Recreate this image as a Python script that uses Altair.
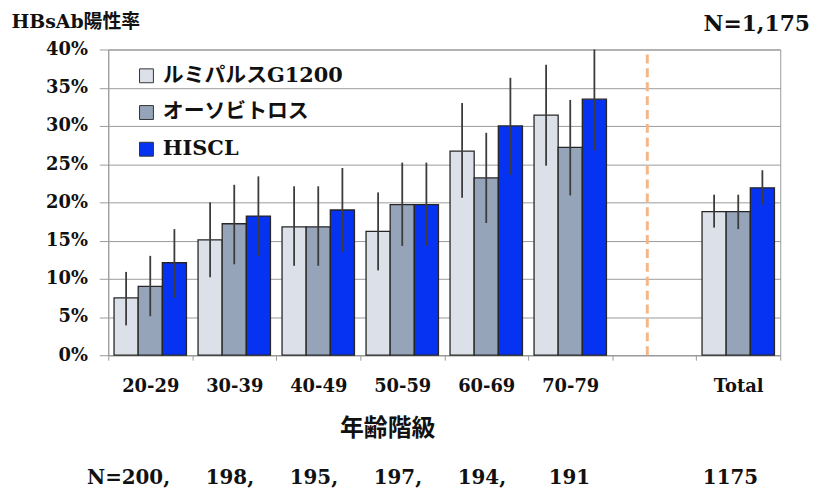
import altair as alt
import pandas as pd

# ---- data ----
cats = ["20-29", "30-39", "40-49", "50-59", "60-69", "70-79", "Total"]
x_domain = ["20-29", "30-39", "40-49", "50-59", "60-69", "70-79", " ", "Total"]
series = ["ルミパルスG1200", "オーソビトロス", "HISCL"]
colors = ["#DCE0E9", "#96A4BA", "#0633F2"]

lumi = [7.5, 15.1, 16.8, 16.2, 26.7, 31.4, 18.8]
lumi_lo = [3.9, 10.2, 11.7, 11.1, 20.6, 24.8, 16.7]
lumi_hi = [10.9, 20.0, 22.1, 21.3, 33.0, 38.0, 21.0]

ortho = [9.0, 17.2, 16.8, 19.7, 23.2, 27.2, 18.8]
ortho_lo = [5.1, 11.9, 11.7, 14.3, 17.3, 20.9, 16.5]
ortho_hi = [13.0, 22.3, 22.1, 25.2, 29.1, 33.4, 21.0]

hiscl = [12.1, 18.2, 19.0, 19.7, 30.0, 33.5, 21.9]
hiscl_lo = [7.5, 13.0, 13.5, 14.3, 23.6, 26.8, 19.7]
hiscl_hi = [16.5, 23.4, 24.5, 25.2, 36.3, 40.0, 24.2]

n_labels = ["N=200,", "198,", "195,", "197,", "194,", "191", "1175"]
y_ticks = [0, 5, 10, 15, 20, 25, 30, 35, 40]

rows = []
for s, vals, los, his in zip(series, [lumi, ortho, hiscl],
                             [lumi_lo, ortho_lo, hiscl_lo],
                             [lumi_hi, ortho_hi, hiscl_hi]):
    for c, v, lo, hi in zip(cats, vals, los, his):
        rows.append({"cat": c, "series": s, "value": v, "lo": lo, "hi": hi})
df = pd.DataFrame(rows)
ndf = pd.DataFrame({"cat": cats, "n": n_labels})
sep = pd.DataFrame({"cat": [" "]})

SERIF = "DejaVu Serif"
MIX = "DejaVu Serif, Noto Sans CJK JP"
CJK = "Noto Sans CJK JP"
GRAY = "#9a9a9a"
INK = "#111111"

x_axis = alt.Axis(
    title="年齢階級", labelAngle=0, labelFont=SERIF, labelFontSize=18,
    labelFontWeight="bold", labelColor=INK, labelPadding=18,
    tickBand="extent", tickSize=5, tickColor=GRAY, domainColor=GRAY,
    titleFont=CJK, titleFontSize=24, titleFontWeight="bold",
    titleColor=INK, titleX=281, titleY=74, titleBaseline="middle",
)
x_scale = alt.Scale(domain=x_domain, paddingInner=0, paddingOuter=0)

y_axis = alt.Axis(
    values=y_ticks, tickCount=20, labelExpr="datum.value + '%'", labelOverlap=False,
    title="HBsAb陽性率", titleAngle=0, titleAlign="left",
    titleBaseline="middle", titleX=-98, titleY=-28,
    titleFont=MIX, titleFontSize=19, titleFontWeight="bold", titleColor=INK,
    labelFont=SERIF, labelFontSize=18, labelFontWeight="bold",
    labelColor=INK, labelPadding=12, tickSize=9, tickColor=GRAY,
    domainColor=GRAY, gridColor=GRAY, gridOpacity=1, gridWidth=1,
)
y_scale = alt.Scale(domain=[0, 40], nice=False)

xoff = alt.XOffset(
    "series:N",
    scale=alt.Scale(domain=series, paddingOuter=0.24, paddingInner=0),
)

bars = alt.Chart(df).mark_bar(stroke="#262626", strokeWidth=1.3).encode(
    x=alt.X("cat:N", scale=x_scale, axis=x_axis),
    xOffset=xoff,
    y=alt.Y("value:Q", scale=y_scale, axis=y_axis),
    color=alt.Color(
        "series:N",
        scale=alt.Scale(domain=series, range=colors),
        legend=alt.Legend(
            title=None, orient="none", legendX=28, legendY=16,
            symbolType="square", symbolSize=196, symbolStrokeColor="#333333",
            symbolStrokeWidth=1, symbolOpacity=1, labelFont=MIX, labelFontSize=21,
            labelFontWeight="bold", labelColor=INK, rowPadding=15,
            labelOffset=6, padding=0, labelLimit=400,
        ),
    ),
)

err = alt.Chart(df).mark_rule(color="#3c3c3c", strokeWidth=1.8).encode(
    x=alt.X("cat:N", scale=x_scale, axis=x_axis),
    xOffset=xoff,
    y=alt.Y("lo:Q", scale=y_scale, axis=y_axis),
    y2="hi:Q",
)

dash = alt.Chart(sep).mark_rule(
    color="#F4B688", strokeWidth=3, strokeDash=[9, 5], xOffset=-7
).encode(
    x=alt.X("cat:N", scale=x_scale, axis=x_axis),
    y=alt.Y(datum=0, scale=y_scale, axis=y_axis),
    y2=alt.datum(40),
)

ntext = alt.Chart(ndf).mark_text(
    align="right", dx=20, baseline="alphabetic", font=SERIF,
    fontSize=20, fontWeight="bold", color=INK,
).encode(
    x=alt.X("cat:N", scale=x_scale, axis=x_axis),
    y=alt.value(438),
    text="n:N",
)

chart = (
    alt.layer(bars, err, dash, ntext)
    .properties(
        width=677, height=308,
        padding={"left": 101, "top": 40, "right": 33, "bottom": 136},
        autosize=alt.AutoSizeParams(type="none"),
        title=alt.TitleParams(
            "N=1,175", anchor="end", frame="group", font=SERIF, fontSize=22,
            fontWeight="bold", color=INK, dx=30, offset=0, dy=40,
            baseline="alphabetic",
        ),
    )
    .configure_view(stroke=GRAY, strokeWidth=1)
)

chart.save("out.html", embed_options={"renderer": "svg", "actions": False})
